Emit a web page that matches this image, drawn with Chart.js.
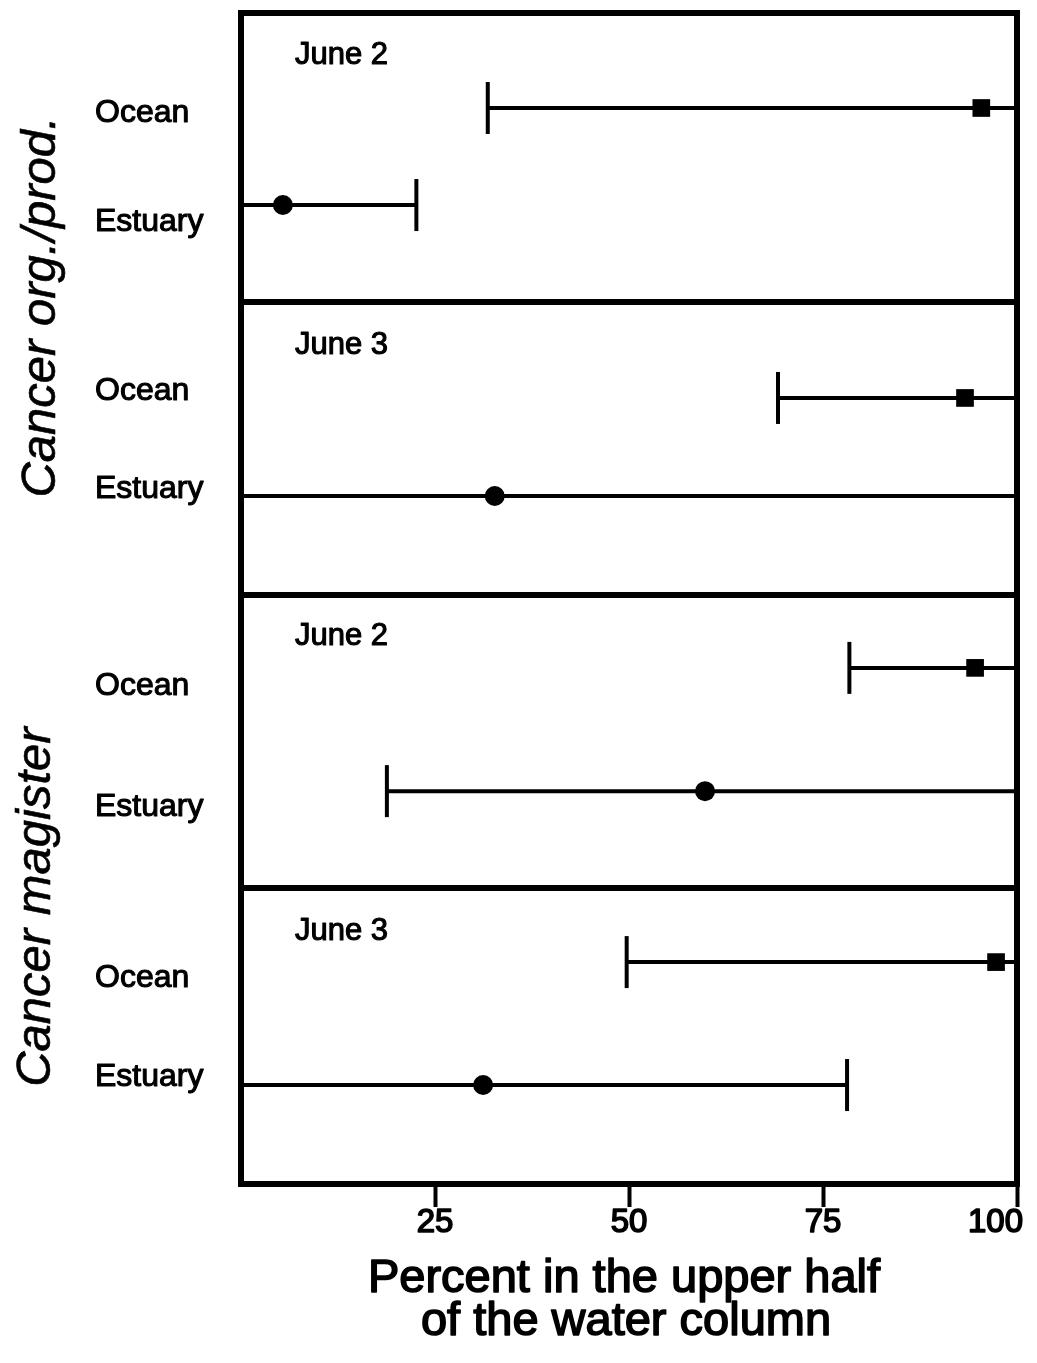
<!DOCTYPE html>
<html><head><meta charset="utf-8">
<script src="https://cdn.jsdelivr.net/npm/chart.js@4.4.1/dist/chart.umd.min.js"></script>
<style>html,body{margin:0;padding:0;background:#fff}canvas{display:block}</style>
</head><body>
<canvas id="c" width="1037" height="1363"></canvas>
<script>
// ---------- DATA ----------
const speciesLabels = ['Cancer org./prod.', 'Cancer magister'];
const panelDates = ['June 2', 'June 3', 'June 2', 'June 3'];
const siteLabels = ['Ocean', 'Estuary'];
const oceanMean = [95.4, 93.3, 94.6, 97.3];
const oceanLow = [31.8, 69.2, 78.4, 49.7];
const oceanHigh = [100, 100, 100, 100];
const estuaryMean = [5.4, 32.7, 59.8, 31.2];
const estuaryLow = [0, 0, 18.8, 0];
const estuaryHigh = [22.6, 100, 100, 78.1];
const xTickValues = [25, 50, 75, 100];
const xTitle = ['Percent in the upper half', 'of the water column'];

// ---------- LAYOUT (y in panel units, 1 unit = one panel) ----------
const LAYOUT = {
  oceanRowY: [0.3245, 1.315, 2.237, 3.242],
  estuaryRowY: [0.656, 1.650, 2.658, 3.662],
  oceanLabelY: [0.342, 1.291, 2.299, 3.296],
  estuaryLabelY: [0.714, 1.626, 2.712, 3.635],
  dividerY: [0.987, 1.988, 2.989],
  dateLabelY: [0.1435, 1.134, 2.131, 3.136],
  speciesLabelY: [1.004, 3.054],
  speciesLabelX: [41, 36],
  siteLabelX: 95,
  dateLabelX: 295
};
const FONT = '"Liberation Sans", Arial, Helvetica, sans-serif';

function boldText(ctx, t, x, y, w) {
  ctx.lineWidth = w;
  ctx.lineJoin = 'round';
  ctx.strokeText(t, x, y);
  ctx.fillText(t, x, y);
}

const overlay = {
  id: 'overlay',
  beforeDatasetsDraw(chart) {
    const ctx = chart.ctx, xs = chart.scales.x, ys = chart.scales.y;
    ctx.save();
    ctx.strokeStyle = '#000';
    ctx.lineWidth = 4;
    const rows = [];
    for (let i = 0; i < 4; i++) {
      rows.push([oceanLow[i], oceanHigh[i], LAYOUT.oceanRowY[i]]);
      rows.push([estuaryLow[i], estuaryHigh[i], LAYOUT.estuaryRowY[i]]);
    }
    rows.forEach(([lo, hi, yv]) => {
      const x1 = xs.getPixelForValue(lo), x2 = xs.getPixelForValue(hi), y = ys.getPixelForValue(yv);
      ctx.beginPath(); ctx.moveTo(x1, y); ctx.lineTo(x2, y); ctx.stroke();
      [x1, x2].forEach(x => { ctx.beginPath(); ctx.moveTo(x, y - 26); ctx.lineTo(x, y + 26); ctx.stroke(); });
    });
    ctx.restore();
  },
  afterDatasetsDraw(chart) {
    const ctx = chart.ctx, a = chart.chartArea, ys = chart.scales.y;
    ctx.save();
    ctx.strokeStyle = '#000';
    ctx.lineWidth = 6;
    ctx.strokeRect(a.left, a.top, a.right - a.left, a.bottom - a.top);
    LAYOUT.dividerY.forEach(v => {
      const y = ys.getPixelForValue(v);
      ctx.beginPath(); ctx.moveTo(a.left, y); ctx.lineTo(a.right, y); ctx.stroke();
    });
    ctx.restore();
  },
  afterDraw(chart) {
    const ctx = chart.ctx, xs = chart.scales.x, ys = chart.scales.y;
    ctx.save();
    ctx.fillStyle = '#000';
    ctx.strokeStyle = '#000';
    ctx.textBaseline = 'middle';
    // site labels
    ctx.font = '32px ' + FONT;
    ctx.textAlign = 'left';
    for (let i = 0; i < 4; i++) {
      boldText(ctx, siteLabels[0], LAYOUT.siteLabelX, ys.getPixelForValue(LAYOUT.oceanLabelY[i]), 1.1);
      boldText(ctx, siteLabels[1], LAYOUT.siteLabelX, ys.getPixelForValue(LAYOUT.estuaryLabelY[i]), 1.1);
    }
    // date labels
    ctx.font = '31px ' + FONT;
    panelDates.forEach((d, i) => boldText(ctx, d, LAYOUT.dateLabelX, ys.getPixelForValue(LAYOUT.dateLabelY[i]), 1.1));
    // species labels
    ctx.font = 'italic 49px ' + FONT;
    ctx.textAlign = 'center';
    speciesLabels.forEach((s, i) => {
      ctx.save();
      ctx.translate(LAYOUT.speciesLabelX[i], ys.getPixelForValue(LAYOUT.speciesLabelY[i]));
      ctx.rotate(-Math.PI / 2);
      boldText(ctx, s, 0, 0, 0.6);
      ctx.restore();
    });
    // tick labels
    ctx.font = '33px ' + FONT;
    xTickValues.forEach((v, i) => {
      const x = xs.getPixelForValue(v);
      if (i === xTickValues.length - 1) { ctx.textAlign = 'right'; boldText(ctx, String(v), x + 6, 1223, 1.6); }
      else { ctx.textAlign = 'center'; boldText(ctx, String(v), x, 1223, 1.6); }
    });
    // axis title
    ctx.font = '47px ' + FONT;
    ctx.textAlign = 'center';
    boldText(ctx, xTitle[0], 624, 1279, 1.6);
    boldText(ctx, xTitle[1], 626, 1322, 1.6);
    ctx.restore();
  }
};

new Chart(document.getElementById('c'), {
  type: 'scatter',
  data: {
    datasets: [
      {
        label: siteLabels[0],
        data: oceanMean.map((m, i) => ({ x: m, y: LAYOUT.oceanRowY[i] })),
        pointStyle: 'rect', pointRadius: 12.5, backgroundColor: '#000', borderColor: '#000', borderWidth: 0
      },
      {
        label: siteLabels[1],
        data: estuaryMean.map((m, i) => ({ x: m, y: LAYOUT.estuaryRowY[i] })),
        pointStyle: 'circle', pointRadius: 10, backgroundColor: '#000', borderColor: '#000', borderWidth: 0
      }
    ]
  },
  options: {
    responsive: false,
    animation: false,
    events: [],
    layout: { padding: { left: 241, right: 20, top: 13, bottom: 0 } },
    plugins: { legend: { display: false }, tooltip: { enabled: false } },
    scales: {
      x: {
        type: 'linear', min: 0, max: 100,
        ticks: { stepSize: 25, display: false },
        grid: {
          drawOnChartArea: false, drawTicks: true, tickLength: 23, tickWidth: 4,
          tickColor: c => (c.tick && c.tick.value === 0) ? 'rgba(0,0,0,0)' : '#000'
        },
        border: { display: false },
        afterFit: s => { s.height = 179; }
      },
      y: { type: 'linear', min: 0, max: 4, reverse: true, display: false }
    }
  },
  plugins: [overlay]
});
</script>
</body></html>
